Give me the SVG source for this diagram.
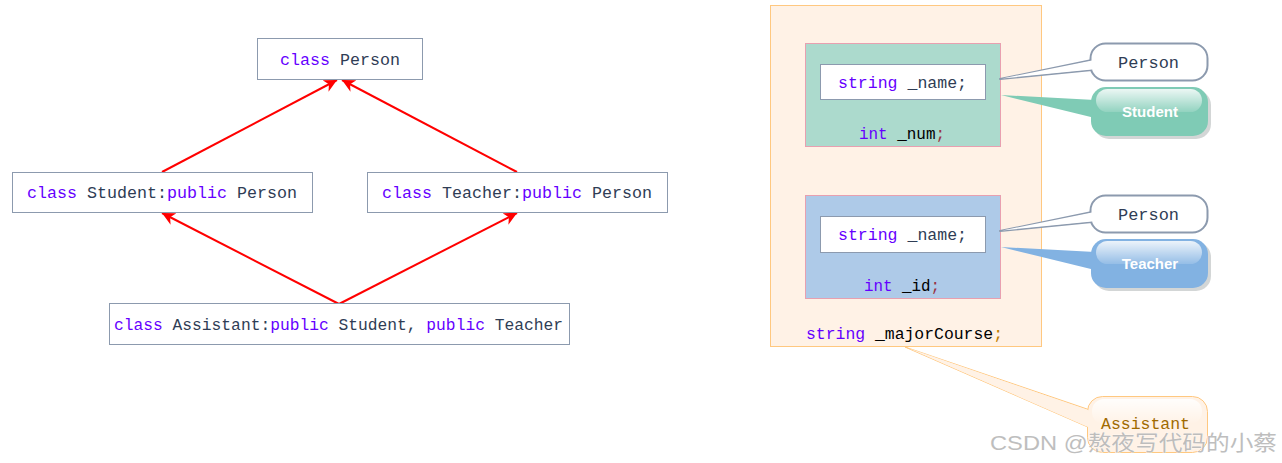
<svg xmlns="http://www.w3.org/2000/svg" width="1282" height="463" viewBox="0 0 1282 463">
<style>
.box{fill:#fff;stroke:#8C9AAE;stroke-width:1}
.code{font-family:"Liberation Mono","DejaVu Sans Mono",monospace;font-size:16px;fill:#2F3D55}
.kw{fill:#6600FF}
.blk{fill:#000}
.semi{fill:#993344}
.arrow{stroke:#FF0000;stroke-width:2;fill:none;marker-end:url(#ah)}
.bub{font-family:"Liberation Sans",Arial,sans-serif;font-weight:bold;font-size:15px;fill:#fff;text-anchor:middle}
</style>
<defs>
<marker id="ah" viewBox="0 0 10 10" refX="10" refY="5" markerWidth="6.5" markerHeight="6.5" orient="auto" markerUnits="strokeWidth">
<path d="M0,0 L10,5 L0,10 L3,5 Z" fill="#FF0000"/>
</marker>
<linearGradient id="gloss" x1="0" y1="0" x2="0" y2="1">
<stop offset="0" stop-color="#fff" stop-opacity="0.85"/>
<stop offset="1" stop-color="#fff" stop-opacity="0.15"/>
</linearGradient>
<linearGradient id="agl" x1="0" y1="0" x2="0" y2="1">
<stop offset="0" stop-color="#fff" stop-opacity="0.9"/>
<stop offset="1" stop-color="#fff" stop-opacity="0"/>
</linearGradient>
</defs>

<g id="connectors">
<line class="arrow" x1="162" y1="172" x2="337" y2="80"/>
<line class="arrow" x1="517" y1="172" x2="342" y2="80"/>
<line class="arrow" x1="339" y1="304" x2="162" y2="213"/>
<line class="arrow" x1="339" y1="304" x2="517" y2="213"/>
</g>

<g id="person">
<rect class="box" x="257.5" y="38.5" width="165" height="41"/>
<text class="code" x="280" y="65" textLength="120" lengthAdjust="spacingAndGlyphs"><tspan class="kw">class</tspan> Person</text>
</g>
<g id="student">
<rect class="box" x="12.5" y="172.5" width="300" height="40"/>
<text class="code" x="27" y="198" textLength="270" lengthAdjust="spacingAndGlyphs"><tspan class="kw">class</tspan> Student:<tspan class="kw">public</tspan> Person</text>
</g>
<g id="teacher">
<rect class="box" x="367.5" y="172.5" width="300" height="40"/>
<text class="code" x="382" y="198" textLength="270" lengthAdjust="spacingAndGlyphs"><tspan class="kw">class</tspan> Teacher:<tspan class="kw">public</tspan> Person</text>
</g>
<g id="assistant">
<rect class="box" x="109.5" y="303.5" width="460" height="41"/>
<text class="code" x="114" y="330" textLength="449" lengthAdjust="spacingAndGlyphs"><tspan class="kw">class</tspan> Assistant:<tspan class="kw">public</tspan> Student, <tspan class="kw">public</tspan> Teacher</text>
</g>

<g id="layout">
<rect x="770.5" y="5.5" width="271" height="341" fill="#FFF2E6" stroke="#FFC880"/>
<text class="code" x="806" y="339" textLength="197" lengthAdjust="spacingAndGlyphs"><tspan class="kw">string</tspan> <tspan class="blk">_majorCourse</tspan><tspan fill="#C08000">;</tspan></text>
</g>

<g id="student-part">
<rect x="805.5" y="43.5" width="195" height="103" fill="#ACDACD" stroke="#E8A0B0"/>
<rect class="box" x="820.5" y="64.5" width="165" height="35"/>
<text class="code" x="838" y="88" textLength="129" lengthAdjust="spacingAndGlyphs"><tspan class="kw">string</tspan> _name;</text>
<text class="code" x="859" y="139" textLength="86" lengthAdjust="spacingAndGlyphs"><tspan class="kw">int</tspan> <tspan class="blk">_num</tspan><tspan class="semi">;</tspan></text>
</g>

<g id="teacher-part">
<rect x="805.5" y="195.5" width="195" height="103" fill="#AECAE8" stroke="#E8A0B0"/>
<rect class="box" x="820.5" y="216.5" width="165" height="36"/>
<text class="code" x="838" y="240" textLength="129" lengthAdjust="spacingAndGlyphs"><tspan class="kw">string</tspan> _name;</text>
<text class="code" x="864" y="291" textLength="76" lengthAdjust="spacingAndGlyphs"><tspan class="kw">int</tspan> <tspan class="blk">_id</tspan><tspan class="semi">;</tspan></text>
</g>

<g id="callout-person1">
<path d="M1092,60 L1000,79 L1092,70" fill="#fff" stroke="#8C9AAE" stroke-width="2" stroke-linejoin="round"/>
<rect x="1090.5" y="43.5" width="117" height="37" rx="15" fill="#fff" stroke="#8C9AAE" stroke-width="2"/>
<path d="M1092,60.5 L1002,78.5 L1092,69.5" fill="#fff"/>
<text class="code" x="1118" y="68" textLength="61" lengthAdjust="spacingAndGlyphs">Person</text>
</g>

<g id="callout-student">
<rect x="1094" y="90" width="117" height="49" rx="15" fill="#C8CCCC" opacity="0.8"/>
<path d="M1095,100 L1001,95 L1095,118 Z" fill="#7FCBB5"/>
<rect x="1091" y="87" width="117" height="49" rx="15" fill="#7FCBB5"/>
<rect x="1096" y="89" width="106" height="23" rx="11.5" fill="url(#gloss)"/>
<text class="bub" x="1150" y="117">Student</text>
</g>

<g id="callout-person2">
<path d="M1092,212 L1000,231 L1092,222" fill="#fff" stroke="#8C9AAE" stroke-width="2" stroke-linejoin="round"/>
<rect x="1090.5" y="195.5" width="117" height="37" rx="15" fill="#fff" stroke="#8C9AAE" stroke-width="2"/>
<path d="M1092,212.5 L1002,230.5 L1092,221.5" fill="#fff"/>
<text class="code" x="1118" y="220" textLength="61" lengthAdjust="spacingAndGlyphs">Person</text>
</g>

<g id="callout-teacher">
<rect x="1094" y="242" width="117" height="49" rx="15" fill="#C8CCCC" opacity="0.8"/>
<path d="M1095,252 L1001,247 L1095,270 Z" fill="#82B2E2"/>
<rect x="1091" y="239" width="117" height="49" rx="15" fill="#82B2E2"/>
<rect x="1096" y="241" width="106" height="23" rx="11.5" fill="url(#gloss)"/>
<text class="bub" x="1150" y="269">Teacher</text>
</g>

<g id="callout-assistant">
<path d="M1090,410 L905,347 L1090,428" fill="#FFF2E6" stroke="#FFC880" stroke-width="1"/>
<rect x="1087.5" y="396.5" width="120" height="56" rx="15" fill="#FFF2E6" stroke="#FFC880"/>
<path d="M1089,410.5 L908,348 L1089,427.5 Z" fill="#FFF2E6"/>
<rect x="1092" y="399" width="110" height="25" rx="12" fill="url(#agl)"/>
<text class="code" x="1101" y="429" textLength="89" lengthAdjust="spacingAndGlyphs" style="fill:#A06A00">Assistant</text>
</g>

<text x="990" y="450" textLength="287" lengthAdjust="spacingAndGlyphs" font-family="'Liberation Sans','Noto Sans CJK SC',sans-serif" font-size="21" fill="#B8B8B8" stroke="#fff" stroke-width="0.6" paint-order="stroke" opacity="0.9">CSDN @熬夜写代码的小蔡</text>
</svg>
